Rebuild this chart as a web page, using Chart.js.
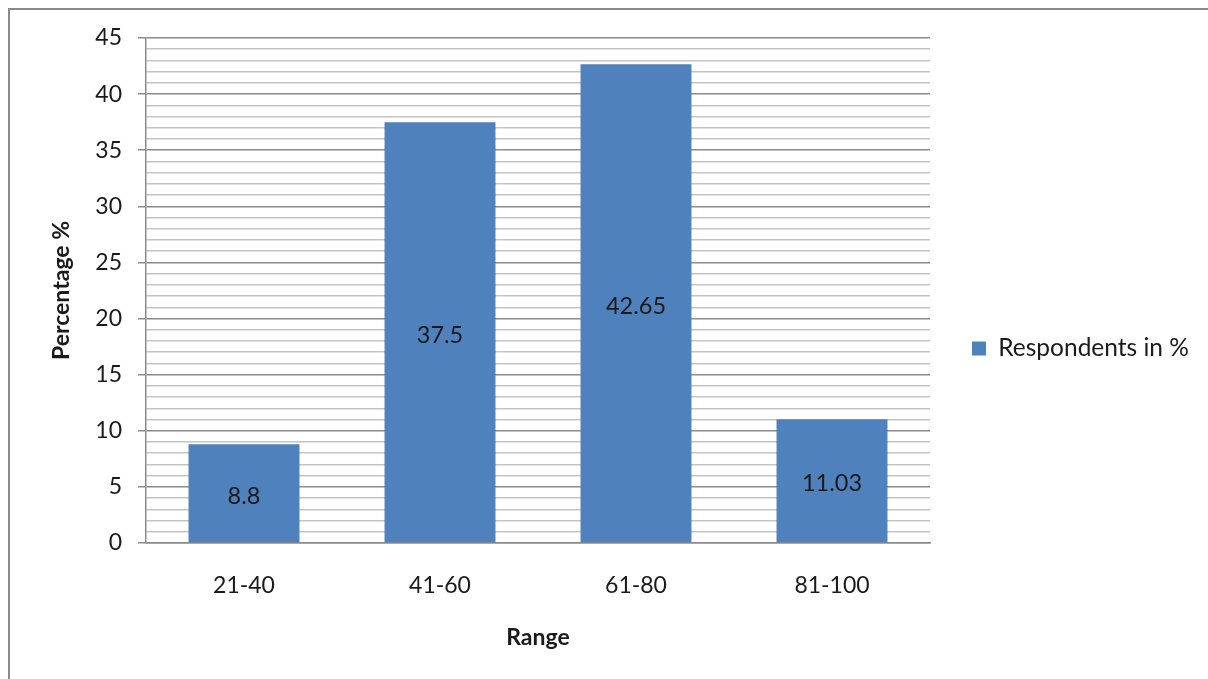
<!DOCTYPE html>
<html>
<head>
<meta charset="utf-8">
<script src="https://cdn.jsdelivr.net/npm/chart.js@4.4.1/dist/chart.umd.min.js"></script>
<style>
  html, body { margin: 0; padding: 0; background: #fff; }
  #wrap { position: relative; width: 1208px; height: 679px; overflow: hidden; }
  #frame { position: absolute; left: 8px; top: 8px; width: 1300px; height: 800px;
           border-left: 2px solid #8a8a8a; border-top: 2px solid #8a8a8a; pointer-events: none; }
  canvas { position: absolute; left: 0; top: 0; }
</style>
</head>
<body>
<div id="wrap">
  <canvas id="c" width="1208" height="679"></canvas>
  <div id="frame"></div>
</div>
<script>
const categories = ['21-40', '41-60', '61-80', '81-100'];
const respondents = [8.8, 37.5, 42.65, 11.03];
const seriesLabel = 'Respondents in %';
const yTitle = 'Percentage %';
const xTitle = 'Range';

const FONT = 'Lato, "Liberation Sans", sans-serif';

const barLabels = {
  id: 'barLabels',
  afterDatasetsDraw(chart) {
    const ctx = chart.ctx;
    const meta = chart.getDatasetMeta(0);
    ctx.save();
    ctx.font = '23.5px ' + FONT;
    ctx.fillStyle = '#1a1a1a';
    ctx.textAlign = 'center';
    ctx.textBaseline = 'middle';
    meta.data.forEach((bar, i) => {
      const v = chart.data.datasets[0].data[i];
      ctx.fillText(String(v), bar.x, (bar.y + bar.base) / 2 + 3);
    });
    ctx.restore();
  }
};

const legendFix = {
  id: 'legendFix',
  beforeUpdate(chart) {
    const lg = chart.legend;
    if (lg && !lg._patched) {
      const origFit = lg.fit.bind(lg);
      lg.fit = function () { origFit(); this.width = 278; };
      const origDraw = lg.draw.bind(lg);
      lg.draw = function (a) {
        const ctx = this.ctx;
        ctx.save();
        ctx.translate(0, -10);
        origDraw(a);
        ctx.restore();
      };
      lg._patched = true;
    }
  }
};

new Chart(document.getElementById('c'), {
  type: 'bar',
  data: {
    labels: categories,
    datasets: [{
      label: seriesLabel,
      data: respondents,
      backgroundColor: '#4F81BD',
      borderWidth: 0,
      categoryPercentage: 1,
      barPercentage: 0.566
    }]
  },
  options: {
    responsive: false,
    animation: false,
    devicePixelRatio: 1,
    layout: { padding: { top: 38, right: 0, left: 0, bottom: 0 } },
    plugins: {
      tooltip: { enabled: false },
      legend: {
        position: 'right',
        labels: {
          boxWidth: 14, boxHeight: 14, padding: 42,
          color: '#1a1a1a',
          font: { family: FONT, size: 24.5 }
        }
      }
    },
    scales: {
      x: {
        grid: { display: false, drawTicks: false, tickLength: 0 },
        border: { display: true, color: '#8a8a8a', width: 1.5 },
        ticks: { color: '#1a1a1a', padding: 29, font: { family: FONT, size: 23 } },
        title: { display: true, text: xTitle, color: '#1a1a1a',
                 font: { family: FONT, size: 23, weight: 'bold' }, padding: { top: 0, bottom: 28 } },
        afterFit(s) { s.height = 136; }
      },
      y: {
        min: 0, max: 45,
        grid: {
          color: (c) => (c.tick && c.tick.value % 5 === 0) ? '#8c8c8c' : '#c4c4c4',
          tickColor: (c) => (c.tick && c.tick.value % 5 === 0) ? '#8c8c8c' : 'rgba(0,0,0,0)',
          tickLength: 8,
          lineWidth: 1.5
        },
        border: { display: true, color: '#8a8a8a', width: 1.5 },
        ticks: {
          stepSize: 1,
          autoSkip: false,
          padding: 16,
          color: '#1a1a1a',
          font: { family: FONT, size: 23 },
          callback: (v) => (v % 5 === 0 ? String(v) : '')
        },
        title: { display: true, text: yTitle, color: '#1a1a1a',
                 font: { family: FONT, size: 23, weight: 'bold' }, padding: { top: 48, bottom: 0 } },
        afterFit(s) { s.width = 146; }
      }
    }
  },
  plugins: [barLabels, legendFix]
});
</script>
</body>
</html>
